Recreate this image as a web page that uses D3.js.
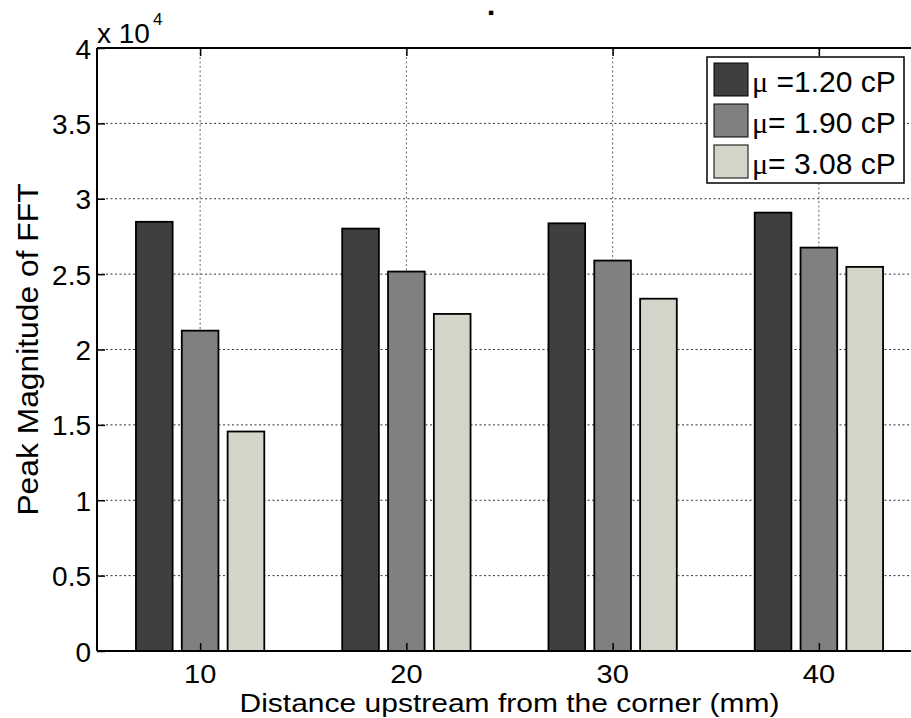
<!DOCTYPE html>
<html>
<head>
<meta charset="utf-8">
<script src="https://cdn.jsdelivr.net/npm/d3@7"></script>
<style>
  html, body { margin: 0; padding: 0; background: #fff; }
  svg { display: block; }
  text { font-family: "Liberation Sans", Arial, sans-serif; fill: #000; }
</style>
</head>
<body>
<svg id="chart" width="911" height="718"></svg>
<script>
// ---- data ----
const categories = [10, 20, 30, 40];
const seriesNames = ["\u03BC =1.20 cP", "\u03BC= 1.90 cP", "\u03BC= 3.08 cP"];
const mu120 = [28470, 28020, 28370, 29080];
const mu190 = [21250, 25170, 25900, 26760];
const mu308 = [14560, 22360, 23370, 25480];
const yTicks = [0, 5000, 10000, 15000, 20000, 25000, 30000, 35000, 40000];
const xTicks = [10, 20, 30, 40];
const colors = ["#3f3f3f", "#808080", "#d4d5c8"];

const series = [mu120, mu190, mu308];

// ---- layout ----
const svg = d3.select("#chart");
const L = 97, T = 48, R = 922, B = 651;
const x = d3.scaleLinear().domain([5, 45]).range([L, R]);
const y = d3.scaleLinear().domain([0, 40000]).range([B, T]);

// grid
const grid = svg.append("g");
grid.selectAll("line.h").data(yTicks.filter(v => v > 0 && v < 40000)).join("line")
  .attr("x1", L).attr("x2", R).attr("y1", d => y(d)).attr("y2", d => y(d))
  .attr("stroke", "#333").attr("stroke-width", 1).attr("stroke-dasharray", "2,2.5");
grid.selectAll("line.v").data(xTicks).join("line")
  .attr("x1", d => x(d)).attr("x2", d => x(d)).attr("y1", T).attr("y2", B)
  .attr("stroke", "#666").attr("stroke-width", 1).attr("stroke-dasharray", "2,2.5");

// bars
const groupW = 10 * Math.min(0.8, 3 / (3 + 1.5));
const step = groupW / 3;
const barW = step * 0.8;
series.forEach((vals, si) => {
  const off = (si - 1) * step;
  svg.append("g").selectAll("rect").data(vals).join("rect")
    .attr("x", (d, i) => x(categories[i] + off - barW / 2))
    .attr("width", x(barW) - x(0))
    .attr("y", d => y(d))
    .attr("height", d => y(0) - y(d))
    .attr("fill", colors[si])
    .attr("stroke", "#000").attr("stroke-width", 1.8);
});

// axes (MATLAB style, ticks inward)
const yAxis = svg.append("g").attr("transform", `translate(${L},0)`)
  .call(d3.axisLeft(y).tickValues(yTicks).tickSize(-8).tickFormat(""));
const xAxis = svg.append("g").attr("transform", `translate(0,${B})`)
  .call(d3.axisBottom(x).tickValues(xTicks).tickSize(-8).tickFormat(""));
const xTop = svg.append("g").attr("transform", `translate(0,${T})`)
  .call(d3.axisTop(x).tickValues(xTicks).tickSize(-8).tickFormat(""));
[yAxis, xAxis, xTop].forEach(a => {
  a.select(".domain").remove();
  a.selectAll(".tick line").attr("stroke", "#000").attr("stroke-width", 1.5);
});
// frame lines
svg.append("line").attr("x1", L).attr("x2", L).attr("y1", T).attr("y2", B).attr("stroke", "#000").attr("stroke-width", 2);
svg.append("line").attr("x1", L).attr("x2", R).attr("y1", B).attr("y2", B).attr("stroke", "#000").attr("stroke-width", 2);
svg.append("line").attr("x1", L).attr("x2", R).attr("y1", T).attr("y2", T).attr("stroke", "#000").attr("stroke-width", 2);

// y tick labels
svg.append("g").selectAll("text").data(yTicks).join("text")
  .attr("x", 91).attr("y", d => y(d) + 10.5)
  .attr("text-anchor", "end").attr("font-size", 28)
  .text(d => String(d / 10000));

// x tick labels
svg.append("g").selectAll("text").data(xTicks).join("text")
  .attr("transform", d => `translate(${x(d)},683) scale(1,0.87)`)
  .attr("text-anchor", "middle").attr("font-size", 29)
  .text(d => d);

// axis labels
svg.append("text")
  .attr("transform", `translate(${(L + R) / 2},712) scale(1,0.86)`)
  .attr("text-anchor", "middle").attr("font-size", 30)
  .text("Distance upstream from the corner (mm)");
svg.append("text")
  .attr("transform", `translate(38,${(T + B) / 2}) rotate(-90) scale(1.06,1)`)
  .attr("text-anchor", "middle").attr("font-size", 30)
  .text("Peak Magnitude of FFT");

// exponent
const ex = svg.append("text").attr("x", 97).attr("y", 43).attr("font-size", 28);
ex.append("tspan").text("x 10");
ex.append("tspan").attr("font-size", 17).attr("dy", -18).attr("dx", 3).text("4");

// title (single dot)
svg.append("text").attr("x", 491).attr("y", 13.5).attr("text-anchor", "middle")
  .attr("font-size", 15).attr("font-weight", "bold")
  .attr("stroke", "#000").attr("stroke-width", 2.2).text(".");

// legend
const lg = svg.append("g");
lg.append("rect").attr("x", 707).attr("y", 57).attr("width", 197).attr("height", 126)
  .attr("fill", "#fff").attr("stroke", "#000").attr("stroke-width", 1.5);
const rowsY = [63, 104, 145];
seriesNames.forEach((name, i) => {
  lg.append("rect").attr("x", 714).attr("y", rowsY[i]).attr("width", 34).attr("height", 33)
    .attr("fill", colors[i]).attr("stroke", "#000").attr("stroke-width", 1);
  const t = lg.append("text").attr("x", 752).attr("y", rowsY[i] + 29).attr("font-size", 30);
  t.append("tspan").attr("font-family", "Liberation Serif, serif").text(name.slice(0, 1));
  t.append("tspan").text(name.slice(1));
});
</script>
</body>
</html>
